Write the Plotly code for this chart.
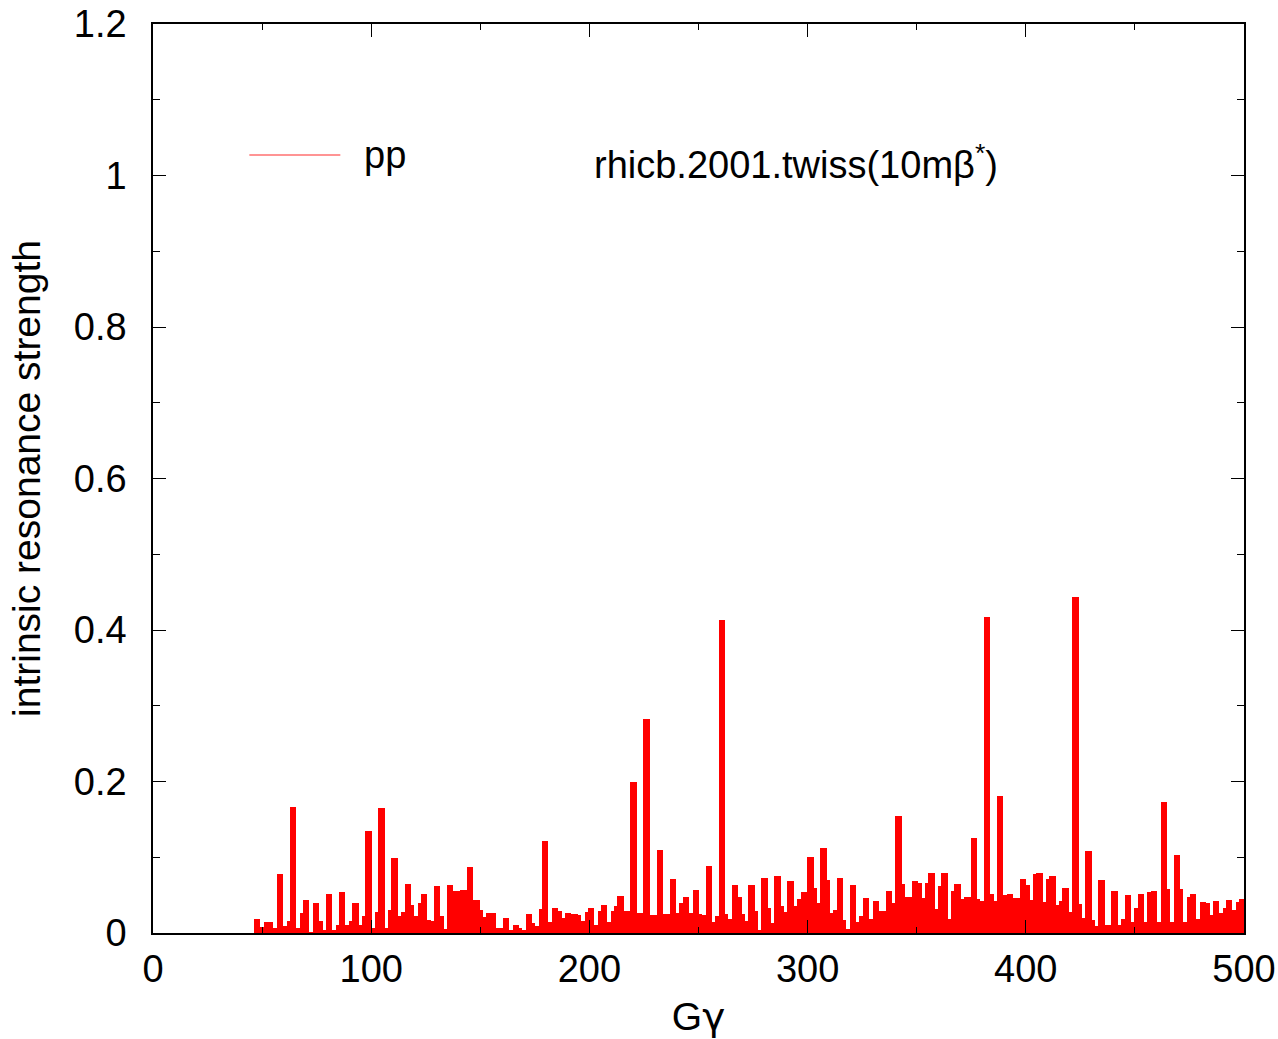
import numpy as np
import plotly.graph_objects as go

# intrinsic resonance strengths, one value per resonance,
# resonances spaced 1.5 in G*gamma starting at 47.74
gg_start = 47.74
gg_step = 1.5
strength = [
    0.019, 0.008, 0.008, 0.015, 0.014, 0.006, 0.006, 0.078, 0.009, 0.009,
    0.016, 0.166, 0.006, 0.006, 0.027, 0.044, 0.001, 0.001, 0.040, 0.016,
    0.004, 0.004, 0.051, 0.004, 0.004, 0.011, 0.054, 0.010, 0.010, 0.016,
    0.039, 0.011, 0.011, 0.022, 0.135, 0.006, 0.006, 0.028, 0.165, 0.006,
    0.006, 0.030, 0.099, 0.022, 0.022, 0.028, 0.065, 0.037, 0.022, 0.022,
    0.039, 0.052, 0.017, 0.016, 0.016, 0.062, 0.023, 0.005, 0.005, 0.063,
    0.055, 0.055, 0.055, 0.057, 0.057, 0.087, 0.043, 0.043, 0.031, 0.021,
    0.021, 0.026, 0.027, 0.007, 0.006, 0.006, 0.020, 0.004, 0.004, 0.011,
    0.007, 0.004, 0.004, 0.025, 0.013, 0.009, 0.009, 0.032, 0.122, 0.014,
    0.014, 0.033, 0.029, 0.020, 0.020, 0.026, 0.025, 0.025, 0.024, 0.016,
    0.016, 0.028, 0.033, 0.011, 0.011, 0.029, 0.037, 0.015, 0.015, 0.029,
    0.035, 0.049, 0.029, 0.029, 0.029, 0.200, 0.026, 0.026, 0.026, 0.282,
    0.024, 0.024, 0.024, 0.109, 0.025, 0.025, 0.025, 0.071, 0.026, 0.026,
    0.039, 0.048, 0.026, 0.026, 0.057, 0.025, 0.024, 0.024, 0.088, 0.014,
    0.014, 0.022, 0.413, 0.025, 0.018, 0.018, 0.064, 0.047, 0.025, 0.016,
    0.016, 0.064, 0.029, 0.004, 0.004, 0.073, 0.033, 0.013, 0.013, 0.075,
    0.036, 0.028, 0.028, 0.068, 0.036, 0.036, 0.045, 0.054, 0.054, 0.100,
    0.060, 0.040, 0.040, 0.112, 0.070, 0.027, 0.027, 0.030, 0.072, 0.017,
    0.005, 0.005, 0.064, 0.015, 0.015, 0.023, 0.046, 0.019, 0.019, 0.042,
    0.029, 0.029, 0.029, 0.056, 0.039, 0.039, 0.154, 0.065, 0.047, 0.047,
    0.047, 0.068, 0.066, 0.046, 0.046, 0.066, 0.079, 0.032, 0.032, 0.062,
    0.079, 0.018, 0.018, 0.055, 0.065, 0.045, 0.045, 0.048, 0.048, 0.125,
    0.045, 0.042, 0.042, 0.417, 0.051, 0.042, 0.042, 0.181, 0.050, 0.050,
    0.052, 0.046, 0.046, 0.046, 0.071, 0.063, 0.044, 0.044, 0.078, 0.079,
    0.041, 0.041, 0.071, 0.075, 0.037, 0.037, 0.042, 0.059, 0.028, 0.028,
    0.443, 0.038, 0.020, 0.020, 0.108, 0.017, 0.009, 0.009, 0.070, 0.010,
    0.010, 0.010, 0.055, 0.011, 0.011, 0.019, 0.050, 0.015, 0.015, 0.033,
    0.051, 0.015, 0.015, 0.054, 0.055, 0.014, 0.014, 0.173, 0.058, 0.014,
    0.014, 0.103, 0.058, 0.015, 0.015, 0.048, 0.051, 0.018, 0.018, 0.041,
    0.040, 0.024, 0.024, 0.042, 0.027, 0.027, 0.033, 0.044, 0.030, 0.030,
    0.041, 0.045,
]
gg = gg_start + gg_step * np.arange(len(strength))

x_ticks = [0, 100, 200, 300, 400, 500]
y_ticks = [0, 0.2, 0.4, 0.6, 0.8, 1.0, 1.2]
y_tick_text = ["0", "0.2", "0.4", "0.6", "0.8", "1", "1.2"]

FONT = "Liberation Sans, Arial, Helvetica, sans-serif"
GREEK = "DejaVu Sans"

fig = go.Figure()

# thick impulses (gnuplot style), drawn as overlapping bars
fig.add_trace(go.Bar(
    x=gg, y=strength,
    width=2.95,
    marker=dict(color="#ff0000", line=dict(width=0)),
    showlegend=False,
))

axis_common = dict(
    showline=True, linecolor="black", linewidth=1.5, mirror="ticks",
    ticks="inside", tickcolor="black", tickwidth=1, ticklen=13,
    showgrid=False, zeroline=False, automargin=False,
    tickfont=dict(family=FONT, size=38, color="black"),
    title_font=dict(family=FONT, size=39, color="black"),
)

fig.update_layout(
    width=1278, height=1039,
    paper_bgcolor="white", plot_bgcolor="white",
    margin=dict(l=153, r=34, t=24, b=106),
    bargap=0,
    xaxis=dict(
        axis_common,
        range=[0, 500], tickvals=x_ticks,
        minor=dict(dtick=50, ticks="inside", ticklen=6, tickcolor="black"),
        title=dict(text=f"G<span style='font-family:{GREEK}'>γ</span>", standoff=13),
        ticklabelstandoff=2,
    ),
    yaxis=dict(
        axis_common,
        range=[0, 1.2], tickvals=y_ticks, ticktext=y_tick_text,
        minor=dict(dtick=0.1, ticks="inside", ticklen=7, tickcolor="black"),
        title=dict(text="intrinsic resonance strength", standoff=21),
        ticklabelstandoff=17,
    ),
)

# key sample line and label
fig.add_shape(type="line", xref="paper", yref="paper",
              x0=0.0883, x1=0.1717, y0=0.856, y1=0.856,
              line=dict(color="#ff7070", width=1.5))
fig.add_annotation(x=0.192, y=0.856, xref="paper", yref="paper",
                   text="pp", showarrow=False, xanchor="left", yanchor="middle",
                   font=dict(family=FONT, size=38, color="black"))
fig.add_annotation(x=0.402, y=0.848, xref="paper", yref="paper",
                   text="rhicb.2001.twiss(10mβ<sup>*</sup>)", showarrow=False,
                   xanchor="left", yanchor="middle",
                   font=dict(family=FONT, size=38, color="black"))

fig.write_html("out.html", config={"displayModeBar": False},
               post_script="document.body.style.margin='0';")
